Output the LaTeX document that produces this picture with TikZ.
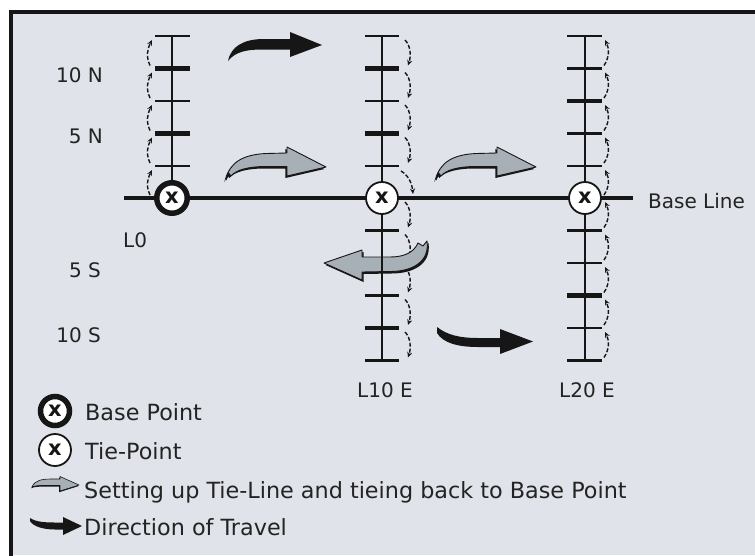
\documentclass[tikz,border=0pt]{standalone}
\usepackage{fontspec}
\setmainfont{DejaVu Sans}
\usetikzlibrary{arrows.meta}
\definecolor{bgc}{RGB}{224,227,233}
\definecolor{arrg}{RGB}{168,176,183}
\definecolor{inkc}{RGB}{22,22,22}
\definecolor{txtc}{RGB}{35,35,35}
\begin{document}
\begin{tikzpicture}[x=1pt,y=-1pt,
  surveyline/.style={line width=2.5pt, draw=inkc},
  tickmk/.style={line width=2.5pt, draw=inkc},
  thicktick/.style={line width=4.2pt, draw=inkc},
  baseln/.style={line width=4pt, draw=inkc},
  basept/.style={circle, draw=inkc, line width=5.5pt, fill=white, minimum size=30.5pt, inner sep=0pt, text=inkc, font=\fontsize{21}{21}\selectfont\bfseries},
  tiept/.style={circle, draw=inkc, line width=1.8pt, fill=white, minimum size=32pt, inner sep=0pt, text=inkc, font=\fontsize{21}{21}\selectfont\bfseries},
  lbl/.style={inner sep=0pt, text=txtc, font=\fontsize{20}{20}\selectfont},
  leg/.style={inner sep=0pt, text=txtc, font=\fontsize{22.3}{22.3}\selectfont},
  walk/.style={draw=inkc, line width=1.4pt, dash pattern=on 4pt off 2pt, -{Stealth[length=5.5pt,width=5pt]}},
  blackarr/.style={fill=inkc},
  greyarr/.style={fill=arrg, draw=inkc, line width=0.9pt, line join=round},
  shadowarr/.style={fill=inkc},
  tiearr/.pic={
    \fill[shadowarr, shift={(-1.6,2)}] (226,180) .. controls (229,162) and (244,154.5) .. (266,153.5) -- (287,153) -- (287,147) -- (326,167) -- (287,176) -- (287,166.5) -- (266,166.5) .. controls (248,166.5) and (236,170) .. (231,176) -- (229,173.5) -- cycle;
    \filldraw[greyarr] (226,180) .. controls (229,162) and (244,154.5) .. (266,153.5) -- (287,153) -- (287,147) -- (326,167) -- (287,176) -- (287,166.5) -- (266,166.5) .. controls (248,166.5) and (236,170) .. (231,176) -- (229,173.5) -- cycle;
  }
]
\useasboundingbox (0,0) rectangle (755,555);
\fill[white] (0,0) rectangle (755,555);
\fill[bgc] (11,12) rectangle (755,555);
\draw[inkc, line width=3.5pt] (11,560) -- (11,12) -- (760,12);

% coordinates
\coordinate (L0t) at (172,36);
\coordinate (L10t) at (382,36);
\coordinate (L10b) at (382,360.5);
\coordinate (L20t) at (585,36);
\coordinate (L20b) at (585,360.5);
\coordinate (blL) at (124,198);
\coordinate (blR) at (633,198);

% ticks
\foreach \y in {36,101,166} \draw[tickmk] (155,\y) -- (190,\y);
\foreach \y in {68.5,133.5} \draw[thicktick] (155,\y) -- (190,\y);
\foreach \y in {36,101,166,230.5,263,295.5,360.5} \draw[tickmk] (365,\y) -- (399,\y);
\foreach \y in {68.5,133.5,328} \draw[thicktick] (365,\y) -- (399,\y);
\foreach \y in {36,68.5,133.5,166,230.5,263,328,360.5} \draw[tickmk] (567,\y) -- (602,\y);
\foreach \y in {101,295.5} \draw[thicktick] (567,\y) -- (602,\y);

% walking arrows
\foreach \a/\b in {36/68.5,68.5/101,101/133.5,133.5/166,166/198}
  \draw[walk] (150,\b-3) .. controls (146,\b-12) and (147,\a+14) .. (152,\a+4);
\foreach \a/\b in {36/68.5,68.5/101,101/133.5,133.5/166,198/230.5,230.5/263,263/295.5,295.5/328,328/360.5}
  \draw[walk] (405,\a+4) .. controls (411,\a+10) and (411,\b-12) .. (408,\b-3);
\draw[walk] (401,171) .. controls (408,175) and (412,183) .. (413,194);
\foreach \a/\b in {36/68.5,68.5/101,101/133.5,133.5/166,166/198,198/230.5,230.5/263,263/295.5,295.5/328,328/360.5}
  \draw[walk] (604,\b-3) .. controls (610,\b-12) and (609,\a+12) .. (605,\a+4);

% back arrow (tie back)
\fill[shadowarr, shift={(1.5,2)}] (324,263) -- (362,250) -- (362,257) -- (390,257) .. controls (405,257) and (414,252) .. (418,243) -- (423,246) -- (427,241) .. controls (430,262) and (412,271.5) .. (390,271.5) -- (362,272) -- (362,280) -- cycle;
\filldraw[greyarr] (324,263) -- (362,250) -- (362,257) -- (390,257) .. controls (405,257) and (414,252) .. (418,243) -- (423,246) -- (427,241) .. controls (430,262) and (412,271.5) .. (390,271.5) -- (362,272) -- (362,280) -- cycle;

% survey lines
\draw[surveyline] (L0t) -- (172,198);
\draw[surveyline] (L10t) -- (L10b);
\draw[surveyline] (L20t) -- (L20b);
\draw[baseln] (blL) -- (blR);

% points
\node[basept] (bp) at (172,198) {x};
\node[tiept] (tp1) at (382,198) {x};
\node[tiept] (tp2) at (585,198) {x};

% tie arrows
\pic (ta1) at (0,0) {tiearr};
\pic (ta2) at (210,0) {tiearr};

% direction arrows
\fill[blackarr] (228,61) .. controls (231,46) and (244,39.5) .. (262,39) -- (290,39) -- (290,32) -- (322,45) -- (290,57) -- (290,49.5) -- (262,49.5) .. controls (246,49.5) and (235,52) .. (228,61) -- cycle;
\fill[blackarr] (437,327) .. controls (447,335) and (460,338) .. (478,338) -- (500,338) -- (500,329) -- (533,341.5) -- (500,354) -- (500,347) -- (478,347) .. controls (458,347) and (443,343) .. (437,333) -- cycle;

% labels
\node[lbl, anchor=base east] (n10) at (103,82) {10 N};
\node[lbl, anchor=base east] (n5) at (103,143) {5 N};
\node[lbl, anchor=base west] (l0) at (123,247) {L0};
\node[lbl, anchor=base east] (s5) at (101,277) {5 S};
\node[lbl, anchor=base east] (s10) at (101,342) {10 S};
\node[lbl, anchor=base] (l10) at (385,397) {L10 E};
\node[lbl, anchor=base] (l20) at (587,397) {L20 E};
\node[lbl, anchor=base west] (bline) at (648,208) {Base Line};

% legend
\node[basept, minimum size=29pt] (lgbp) at (55,411) {x};
\node[tiept, minimum size=32pt] (lgtp) at (55,450) {x};
\fill[shadowarr, shift={(-0.8,1.2)}] (32,487) .. controls (35,480) and (42,479) .. (52,479) -- (60,479) -- (60,476.5) -- (79,485) -- (60,491) -- (60,485.5) -- (52,485.5) .. controls (42,485.5) and (36,485) .. (32,487) -- cycle;
\filldraw[greyarr, line width=0.6pt] (32,487) .. controls (35,480) and (42,479) .. (52,479) -- (60,479) -- (60,476.5) -- (79,485) -- (60,491) -- (60,485.5) -- (52,485.5) .. controls (42,485.5) and (36,485) .. (32,487) -- cycle;
\fill[blackarr] (30,518) .. controls (36,522) and (45,522.5) .. (55,522.5) -- (63,522.5) -- (63,517) -- (82,526) -- (63,535) -- (63,529.5) -- (55,529.5) .. controls (42,529.5) and (33,526) .. (30,521) -- cycle;
\node[leg, anchor=base west] (lg1) at (85,420) {Base Point};
\node[leg, anchor=base west] (lg2) at (85,459) {Tie-Point};
\node[leg, anchor=base west] (lg3) at (84,498) {Setting up Tie-Line and tieing back to Base Point};
\node[leg, anchor=base west] (lg4) at (84,535) {Direction of Travel};
\end{tikzpicture}
\end{document}
